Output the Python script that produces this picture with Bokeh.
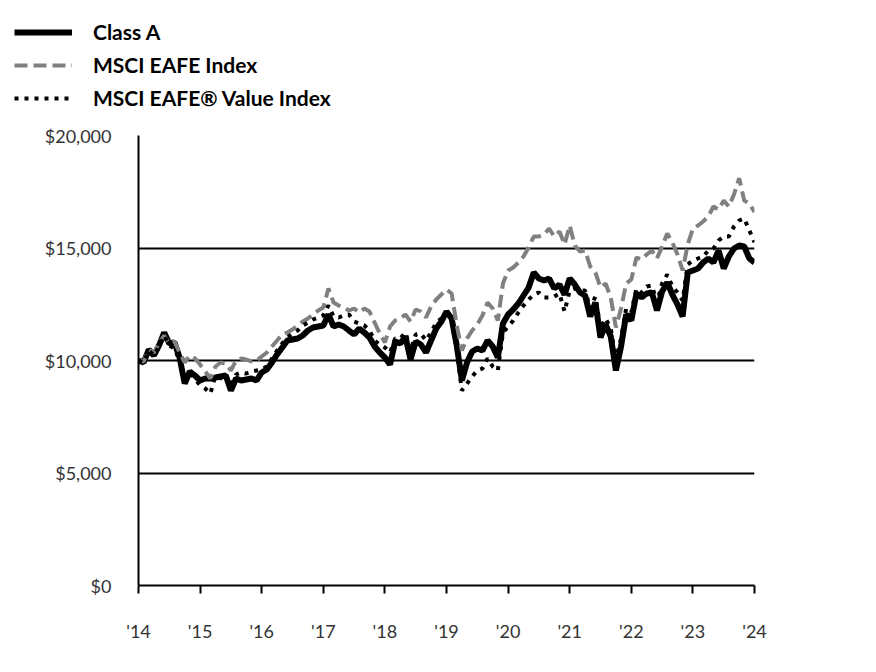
from bokeh.plotting import figure
from bokeh.layouts import column
from bokeh.models import (FixedTicker, NumeralTickFormatter, Legend, LegendItem,
                          Label, Range1d)
from bokeh.embed import file_html
from bokeh.resources import INLINE

# ---- data (monthly, growth of $10,000) ----
class_a = [10000, 9911, 10489, 10222, 10667, 11244, 10756, 10800, 10133, 8978, 9511, 9333,
           9111, 9200, 9200, 9244, 9289, 9333, 8667, 9200, 9111, 9156, 9200, 9111,
           9467, 9600, 9911, 10267, 10578, 10889, 10933, 10978, 11111, 11333, 11467, 11511,
           11556, 12044, 11511, 11600, 11511, 11333, 11156, 11422, 11244, 11022, 10622, 10356,
           10133, 9822, 10844, 10756, 11067, 10044, 10844, 10711, 10356, 10889, 11422, 11733,
           12178, 11867, 10667, 9111, 9911, 10400, 10533, 10444, 10889, 10622, 10133, 11644,
           12044, 12267, 12533, 12889, 13244, 13911, 13644, 13556, 13644, 13200, 13378, 12933,
           13644, 13378, 13022, 12889, 11956, 12578, 11022, 11600, 11067, 9556, 10622, 12044,
           11778, 12978, 12800, 12978, 13022, 12222, 13067, 13467, 12933, 12489, 11956, 13911,
           14000, 14089, 14356, 14533, 14356, 14889, 14089, 14622, 14978, 15111, 15067, 14533,
           14355]
eafe = [10000, 9956, 10489, 10356, 10756, 11111, 10756, 10844, 10356, 9911, 10222, 10089,
        9822, 9511, 9200, 9733, 9911, 9867, 9556, 10000, 10089, 10044, 9956, 10000,
        10178, 10356, 10622, 10889, 11156, 11244, 11378, 11556, 11733, 11867, 12044, 12222,
        12356, 13200, 12578, 12444, 12356, 12222, 12311, 12133, 12311, 12178, 11689, 11200,
        10800, 11511, 11778, 11867, 12044, 11733, 12267, 12178, 11911, 12400, 12711, 12933,
        13156, 12978, 11556, 10444, 10978, 11333, 11600, 12000, 12578, 12311, 11778, 13422,
        14000, 14133, 14356, 14622, 15022, 15511, 15511, 15600, 15867, 15511, 15733, 15156,
        16000, 15111, 14844, 14889, 14178, 13911, 13244, 13422, 12800, 11467, 12311, 13422,
        13600, 14578, 14489, 14711, 14889, 14533, 15067, 15644, 15244, 14711, 14000, 15156,
        15867, 16000, 16178, 16400, 16844, 16711, 17111, 16844, 17378, 18100, 17111, 16978,
        16598]
eafe_value = [10000, 9911, 10444, 10222, 10622, 11111, 10667, 10533, 10000, 9111, 9467, 9200,
              8889, 8756, 8533, 9333, 9200, 9289, 8889, 9378, 9467, 9422, 9511, 9556,
              9600, 9733, 10089, 10444, 10756, 11022, 11200, 11333, 11556, 11689, 11822, 11911,
              12000, 12444, 11956, 11911, 12000, 12044, 11733, 11644, 11556, 11333, 10889, 10711,
              10578, 10356, 10978, 10978, 11244, 10444, 11156, 11200, 10889, 11244, 11689, 11867,
              12133, 11778, 10444, 8667, 8978, 9289, 9556, 9644, 10089, 9733, 9556, 11244,
              11511, 11778, 12133, 12444, 12711, 12933, 13022, 12800, 12800, 12844, 12978, 12178,
              13111, 13200, 13111, 13111, 12311, 12844, 11422, 11867, 11422, 10000, 10978, 12311,
              12133, 13200, 13022, 13289, 13333, 12578, 13422, 13822, 13289, 13022, 12667, 14267,
              14444, 14533, 14622, 14889, 14978, 15333, 15511, 15511, 15956, 16222, 16311, 15778,
              15253]
months = [2014 + i / 12 for i in range(len(class_a))]

series_names = ["Class A", "MSCI EAFE Index", "MSCI EAFE\u00ae Value Index"]
year_ticks = list(range(2014, 2025))
year_labels = ["'%02d" % (y % 100) for y in year_ticks]
y_ticks = [0, 5000, 10000, 15000, 20000]
end_labels = ["$16,598", "$15,253", "$14,355"]
end_values = [eafe[-1], eafe_value[-1], class_a[-1]]

FONT = "Lato"
TXT = "#333333"
W = 870

styles = [dict(line_color="black", line_width=6),
          dict(line_color="#808080", line_width=4, line_dash="13 6"),
          dict(line_color="black", line_width=4, line_dash="4 6")]
data = [class_a, eafe, eafe_value]

# ---- legend strip (separate figure above the chart; series kept out of view) ----
leg = figure(width=W, height=120, output_backend="svg", toolbar_location=None,
             x_range=Range1d(2014, 2024), y_range=Range1d(50000, 60000),
             min_border=0, min_border_left=0, min_border_right=0,
             min_border_top=0, min_border_bottom=0)
leg.frame_align = False
leg.axis.visible = False
leg.grid.visible = False
leg.outline_line_color = None
leg_r = [leg.line(months, vals, **s) for vals, s in zip(data, styles)]
legend = Legend(items=[LegendItem(label=n, renderers=[r]) for n, r in zip(series_names, leg_r)],
                location=(14, 6), orientation="vertical",
                glyph_width=58, glyph_height=20, label_standoff=21,
                label_height=33, spacing=0, padding=0, margin=0,
                label_text_font=FONT, label_text_font_style="bold",
                label_text_font_size="21px", label_text_color="black",
                border_line_color=None, background_fill_alpha=0)
leg.add_layout(legend, "center")

# ---- main chart ----
p = figure(width=W, height=545, output_backend="svg", toolbar_location=None,
           x_range=Range1d(2014, 2024), y_range=Range1d(0, 20000),
           min_border_left=138, min_border_right=116, min_border_top=15,
           min_border_bottom=80)
p.frame_align = False
p.outline_line_color = None

for vals, s in zip(data, styles):
    p.line(months, vals, **s)

p.xaxis.ticker = FixedTicker(ticks=year_ticks)
p.xaxis.major_label_overrides = {t: l for t, l in zip(year_ticks, year_labels)}
p.xaxis.major_tick_in = 0
p.xaxis.major_tick_out = 8
p.xaxis.major_tick_line_color = "black"
p.xaxis.major_tick_line_width = 2
p.xaxis.minor_tick_line_color = None
p.xaxis.axis_line_color = "black"
p.xaxis.axis_line_width = 2
p.xaxis.major_label_standoff = 26
p.xaxis.major_label_text_font = FONT
p.xaxis.major_label_text_font_size = "18px"
p.xaxis.major_label_text_color = TXT

p.yaxis.ticker = FixedTicker(ticks=y_ticks)
p.yaxis.formatter = NumeralTickFormatter(format="$0,0")
p.yaxis.major_tick_line_color = None
p.yaxis.minor_tick_line_color = None
p.yaxis.axis_line_color = "black"
p.yaxis.axis_line_width = 2
p.yaxis.major_label_standoff = 21
p.yaxis.major_label_text_font = FONT
p.yaxis.major_label_text_font_size = "18px"
p.yaxis.major_label_text_color = TXT

p.xgrid.grid_line_color = None
p.ygrid.grid_line_color = "black"
p.ygrid.grid_line_width = 2
p.ygrid.ticker = FixedTicker(ticks=y_ticks[1:])

offsets = [0, 0, -400]
for txt, v, off in zip(end_labels, end_values, offsets):
    p.add_layout(Label(x=2024.2, y=v + off, text=txt, text_font=FONT,
                       text_font_size="18px", text_color=TXT,
                       text_baseline="middle", text_align="left"))

layout = column(leg, p, spacing=0)
open("out.html", "w").write(file_html(layout, INLINE))
